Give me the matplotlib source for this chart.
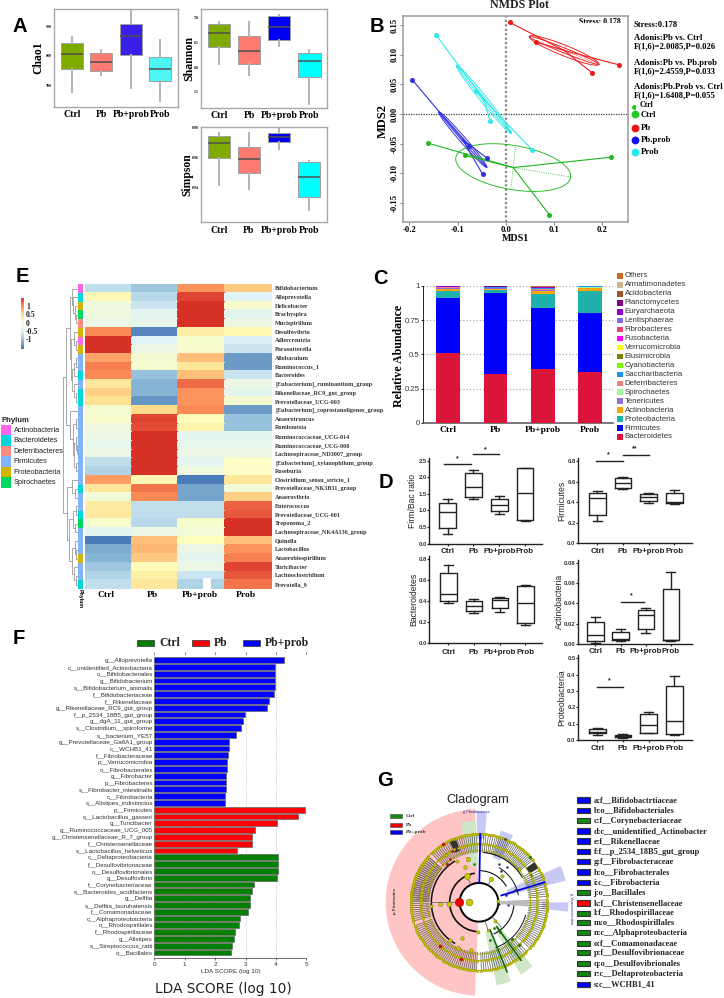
import numpy as np
import matplotlib
matplotlib.use('Agg')
import matplotlib.pyplot as plt
from matplotlib.colors import LinearSegmentedColormap
from matplotlib.patches import Rectangle, Wedge, Circle, Arc

W, H = 724, 998
serif = 'Liberation Serif'
sans = 'Liberation Sans'
plt.rcParams['font.family'] = sans

groups = ['Ctrl', 'Pb', 'Pb+prob', 'Prob']

# panel A: lo, q1, median, q3, hi
chao1 = [[676, 754, 807, 842, 864], [734, 747, 780, 809, 819], [692, 801, 867, 908, 951], [648, 713, 756, 797, 854]]
shannon = [[6.06, 6.40, 6.69, 6.87, 6.91], [5.84, 6.06, 6.33, 6.62, 6.91], [6.42, 6.55, 6.81, 7.03, 7.06], [5.25, 5.80, 6.13, 6.29, 6.34]]
simpson = [[.9421, .9598, .9697, .9744, .9765], [.939, .950, .959, .967, .9765], [.9658, .9701, .9738, .9763, .9788], [.9252, .934, .947, .9571, .958]]

# panel B
pb_pts = [(0.008, 0.155), (0.062, 0.122), (0.178, 0.07), (0.235, 0.083)]
prob_pts = [(-0.144, 0.133), (-0.061, 0.039), (-0.033, -0.011), (0.055, -0.061)]
pbprob_pts = [(-0.194, 0.058), (-0.076, -0.054), (-0.04, -0.074), (-0.048, -0.102)]
ctrl_pts = [(-0.162, -0.049), (-0.085, -0.07), (0.09, -0.17), (0.218, -0.073)]
adonis = ['Stress:0.178', 'Adonis:Pb vs. Ctrl', 'F(1,6)=2.0085,P=0.026', 'Adonis:Pb vs. Pb.prob',
          'F(1,6)=2.4559,P=0.033', 'Adonis:Pb.Prob vs. Ctrl', 'F(1,6)=1.6408,P=0.055']

# panel C
phyla = ['Bacteroidetes', 'Firmicutes', 'Proteobacteria', 'Actinobacteria', 'Tenericutes', 'Spirochaetes',
         'Deferribacteres', 'Saccharibacteria', 'Cyanobacteria', 'Elusimicrobia', 'Verrucomicrobia', 'Fusobacteria',
         'Fibrobacteres', 'Lentisphaerae', 'Euryarchaeota', 'Planctomycetes', 'Acidobacteria', 'Armatimonadetes', 'Others']
phyla_colors = ['#DC143C', '#0000FF', '#20B2AA', '#FFA500', '#9370DB', '#98FB98', '#F08080', '#1E90FF', '#7CFC00', '#808000',
                '#FFFF00', '#FF00FF', '#F04070', '#7B68EE', '#9400D3', '#800080', '#A0522D', '#D2B48C', '#D2691E']
ctrl_ab = [.51, .40, .055, .010, .007, .004, .003, .002, 0, .001, 0, 0, .001, .001, .001, .001, .001, 0, .003]
pb_ab = [.355, .59, .025, .005, .005, .004, .002, .002, 0, .001, 0, 0, .001, .002, .002, .002, .001, 0, .003]
pbprob_ab = [.39, .45, .10, .02, .006, .005, .005, .004, 0, .001, 0, 0, .003, .002, .001, .001, .002, 0, .01]
prob_ab = [.37, .43, .16, .02, .005, .006, .003, .002, 0, .001, 0, 0, .001, .001, 0, 0, 0, 0, .001]

# panel D: lo, q1, median, q3, hi
firm_bac = [[.30, .46, .94, 1.24, 1.35], [1.34, 1.40, 1.70, 2.12, 2.23], [.88, .97, 1.16, 1.35, 1.43], [.68, .72, 1.53, 2.27, 2.29]]
firmicutes = [[.22, .275, .44, .49, .51], [.53, .54, .59, .64, .65], [.39, .41, .45, .48, .49], [.38, .39, .40, .49, .52]]
bacteroidetes = [[.38, .40, .465, .665, .74], [.29, .305, .35, .405, .42], [.30, .335, .41, .43, .44], [.17, .19, .38, .545, .555]]
actino = [[.001, .003, .009, .022, .0265], [.003, .004, .005, .012, .015], [.011, .015, .028, .033, .035], [.003, .004, .004, .054, .071]]
proteo = [[.03, .04, .05, .07, .075], [.015, .02, .025, .03, .035], [.04, .042, .09, .16, .17], [.03, .038, .115, .33, .39]]

# panel E
genera = ['Bifidobacterium', 'Alloprevotella', 'Helicobacter', 'Brachyspira', 'Mucispirillum', 'Desulfovibrio', 'Adlercreutzia',
          'Parasutterella', 'Allobaculum', 'Ruminococcus_1', 'Bacteroides', '[Eubacterium]_ruminantium_group',
          'Rikenellaceae_RC9_gut_group', 'Prevotellaceae_UCG-003', '[Eubacterium]_coprostanoligenes_group', 'Anaerotruncus',
          'Romboutsia', 'Ruminococcaceae_UCG-014', 'Ruminococcaceae_UCG-008', 'Lachnospiraceae_ND3007_group',
          '[Eubacterium]_xylanophilum_group', 'Roseburia', 'Clostridium_sensu_stricto_1', 'Prevotellaceae_NK3B31_group',
          'Anaerovibrio', 'Enterococcus', 'Prevotellaceae_UCG-001', 'Treponema_2', 'Lachnospiraceae_NK4A136_group', 'Quinella',
          'Lactobacillus', 'Anaerobiospirillum', 'Turicibacter', 'Lachnoclostridium', 'Prevotella_9']
heat = [[-.65, -.85, .9, .6], [.1, -.7, 1.3, -.45], [-.25, -.6, 1.4, -.12], [-.25, -.4, 1.4, -.4], [-.3, -.35, 1.4, -.3],
        [.95, -1.3, .25, .1], [1.45, -.45, -.12, -.5], [1.45, -.3, -.1, -.6], [.8, -.15, .65, -1.15], [1.0, -.15, .35, -1.15],
        [.95, -.9, .65, -.6], [.35, -1.0, 1.1, -.3], [.55, -1.0, .9, -.4], [.45, -1.2, .9, -.15], [-.15, .5, .95, -1.15],
        [-.1, 1.3, .05, -.9], [-.25, 1.25, .2, -.9], [-.3, 1.4, -.4, -.4], [-.35, 1.45, -.35, -.35], [-.3, 1.45, -.3, -.3],
        [-.65, 1.4, -.4, -.05], [-.75, 1.4, -.25, -.05], [.85, .1, -1.35, .35], [.35, 1.05, -1.1, -.2], [-.2, .95, -1.1, .55],
        [.3, -.65, -.65, 1.15], [.3, -.65, -.65, 1.2], [-.1, -.7, -.12, 1.45], [-.4, -.3, -.2, 1.45], [-1.35, .65, 0, .65],
        [-1.05, .7, -.3, .9], [-1.0, .6, -.4, 1.0], [-.85, .05, -.3, 1.3], [-.75, .25, -.6, 1.2], [-.65, .35, -.75, 1.05]]
row_phylum = 'ABPSDPAPFFBFBBFFFFFFFFFBFFBSFFFPFFB'
phylum_names = ['Actinobacteria', 'Bacteroidetes', 'Deferribacteres', 'Firmicutes', 'Proteobacteria', 'Spirochaetes']
phylum_colors = {'A': '#FF66F0', 'B': '#00D8D8', 'D': '#FF8A80', 'F': '#80B4FF', 'P': '#D4B400', 'S': '#00D860'}
# (height, left, right), leaves are row numbers
tree = (1.0,
        (.8,
         (.55,
          (.42, 0, (.34, 1, (.24, 2, (.14, 3, 4)))),
          (.45, (.3, 5, (.14, 6, 7)), (.38, (.25, (.12, 8, 9), 10), (.28, 11, (.12, 12, 13))))),
         (.55, 14, (.36, (.18, 15, 16), (.3, (.16, 17, (.08, 18, 19)), (.14, 20, 21))))),
        (.72,
         (.38, 22, (.2, 23, 24)),
         (.58, (.34, (.12, 25, 26), (.2, 27, 28)), (.4, (.24, 29, (.12, 30, 31)), (.26, 32, (.14, 33, 34))))))

# panel F
blue_names = ['g__Alloprevotella', 'c__unidentified_Actinobacteria', 'o__Bifidobacteriales', 'g__Bifidobacterium',
              's__Bifidobacterium_animalis', 'f__Bifidobacteriaceae', 'f__Rikenellaceae', 'g__Rikenellaceae_RC9_gut_group',
              'f__p_2534_18B5_gut_group', 'g__dgA_11_gut_group', 's__Clostridium__spiroforme', 's__bacterium_YE57',
              'g__Prevotellaceae_Ga6A1_group', 'c__WCHB1_41', 'f__Fibrobacteraceae', 'p__Verrucomicrobia', 'o__Fibrobacterales',
              'g__Fibrobacter', 'p__Fibrobacteres', 's__Fibrobacter_intestinalis', 'c__Fibrobacteria', 's__Alistipes_indistinctus']
blue_lda = [4.27, 3.97, 3.97, 3.96, 3.96, 3.94, 3.78, 3.71, 2.98, 2.91, 2.85, 2.69, 2.47, 2.45, 2.42, 2.39, 2.38, 2.37, 2.37, 2.36, 2.32, 2.32]
red_names = ['p__Firmicutes', 's__Lactobacillus_gasseri', 'g__Turicibacter', 'g__Ruminococcaceae_UCG_005',
             'g__Christensenellaceae_R_7_group', 'f__Christensenellaceae', 's__Lactobacillus_helveticus']
red_lda = [4.95, 4.73, 4.02, 3.31, 3.21, 3.20, 2.72]
green_names = ['c__Deltaproteobacteria', 'f__Desulfovibrionaceae', 'o__Desulfovibrionales', 'g__Desulfovibrio',
               'f__Corynebacteriaceae', 's__Bacteroides_acidifaciens', 'g__Delftia', 's__Delftia_tsuruhatensis',
               'f__Comamonadaceae', 'c__Alphaproteobacteria', 'o__Rhodospirillales', 'f__Rhodospirillaceae', 'g__Alistipes',
               's__Streptococcus_ratti', 'o__Bacillales']
green_lda = [4.07, 4.06, 4.06, 4.05, 3.28, 3.21, 3.15, 3.14, 3.09, 2.81, 2.77, 2.66, 2.63, 2.55, 2.52]

# panel G
clade_keys = ['a:f__Bifidobactrtiaceae', 'b:o__Bifidobacteriales', 'c:f__Corynebacteriaceae', 'd:c__unidentified_Actinobacter',
              'e:f__Rikenellaceae', 'f:f__p_2534_18B5_gut_group', 'g:f__Fibrobacteraceae', 'h:o__Fibrobacterales', 'i:c__Fibrobacteria',
              'j:o__Bacillales', 'k:f__Christensenellaceae', 'l:f__Rhodospirillaceae', 'm:o__Rhodospirillales', 'n:c__Alphaproteobacteria',
              'o:f__Comamonadaceae', 'p:f__Desulfovibrionaceae', 'q:o__Desulfovibrionales', 'r:c__Deltaproteobacteria', 's:c__WCHB1_41']
clade_cols = ['b', 'b', 'g', 'b', 'b', 'b', 'b', 'b', 'b', 'g', 'r', 'g', 'g', 'g', 'g', 'g', 'g', 'g', 'b']
# start angle, end angle, inner radius, outer radius, colour
clade_wedges = [(92.5, 267.5, 58, 280, '#FFC4C4'), (92, 103, 110, 245, '#CFE6C6'), (85, 91.5, 190, 272, '#C8C8F4'),
                (63, 73, 140, 225, '#C8C8F4'), (14, 24, 90, 268, '#C8C8F4'), (-6, 0, 190, 268, '#C8C8F4'),
                (-78, -68, 90, 255, '#CFE6C6'), (-60, -50, 90, 250, '#CFE6C6')]
# start, end, number of leaves
leaf_spans = [(92, 78, 8), (76, 38, 24), (30, 5, 13), (2, -42, 24), (-46, -88, 22), (-92, -160, 38), (-164, -222, 32), (134, 94, 22), (178, 138, 22)]
# angle, radius, colour letter, size
clade_nodes = [(180, 29, 'y', 30), (180, 59, 'r', 38), (183, 89, 'y', 22), (183, 117, 'y', 18), (184, 143, 'y', 14),
               (115, 88, 'y', 26), (104, 135, 'y', 20), (112, 115, 'y', 16), (118, 140, 'y', 14), (125, 175, 'y', 14),
               (98, 115, 'g', 10), (130, 150, 'r', 12), (124, 155, 'r', 10), (118, 175, 'r', 10), (122, 205, 'r', 14),
               (232, 143, 'y', 16), (228, 175, 'r', 14), (244, 118, 'y', 16), (245, 150, 'y', 18), (252, 178, 'r', 14),
               (260, 145, 'y', 16), (268, 90, 'y', 14), (62, 78, 'y', 20), (48, 105, 'y', 14), (40, 155, 'y', 14), (18, 115, 'b', 10),
               (14, 85, 'b', 10), (3, 58, 'y', 14), (-5, 60, 'b', 8), (-5, 88, 'b', 8), (-50, 75, 'y', 14), (-55, 110, 'g', 12),
               (-60, 90, 'g', 10), (-72, 88, 'y', 12), (-74, 118, 'g', 10), (-48, 148, 'g', 12), (-47, 175, 'g', 12),
               (55, 115, 'b', 9), (52, 135, 'b', 9), (62, 130, 'b', 9), (68, 205, 'b', 9), (42, 205, 'g', 12), (28, 175, 'g', 8)]
blue_lines = [(89, 58, 205), (17, 70, 205)]
green_lines = [(-68, 90, 225), (-54, 90, 215)]
node_colors = {'y': '#C8C800', 'r': '#EE0000', 'g': '#118811', 'b': '#1111DD'}
cols = {'g': '#118811', 'r': '#FF0000', 'b': '#0000FF'}

fig = plt.figure(figsize=(W / 100, H / 100), dpi=100)


def add_ax(x0, y0, x1, y1, **kw):
    return fig.add_axes([x0 / W, 1 - y1 / H, (x1 - x0) / W, (y1 - y0) / H], **kw)


def stats(rows):
    return [dict(whislo=r[0], q1=r[1], med=r[2], q3=r[3], whishi=r[4], fliers=[]) for r in rows]


def alpha_box(box, rows, ylim, ticks, fmt, name, colors, ylab_x, ylab_size):
    ax = add_ax(*box)
    bp = ax.bxp(stats(rows), positions=range(1, 5), widths=.75, patch_artist=True, showcaps=False, showfliers=False,
                medianprops=dict(color='#505050', lw=1.1), whiskerprops=dict(color='#B4B4B4', lw=1.4),
                boxprops=dict(edgecolor='#A0A0A0', lw=.7))
    for p, c in zip(bp['boxes'], colors):
        p.set_facecolor(c)
    ax.set_xlim(.4, 4.6)
    ax.set_ylim(*ylim)
    ax.set_yticks(ticks)
    ax.set_yticklabels([fmt % t for t in ticks], fontsize=2.8, fontweight='bold', family=serif)
    ax.set_xticks(range(1, 5))
    ax.set_xticklabels(groups, fontsize=7, fontweight='bold', family=serif)
    ax.tick_params(length=0, pad=2.5, axis='x')
    ax.tick_params(length=0, pad=1.5, axis='y')
    for s in ax.spines.values():
        s.set_color('#A8A8A8')
        s.set_linewidth(1)
    ov.text(ylab_x, (box[1] + box[3]) / 2, name, rotation=90, ha='center', va='center', fontsize=ylab_size, fontweight='bold', family=serif)
    return ax


def prism_box(x0, x1, y_top, y0, ymax, ticks, fmt, rows, centers, name, ylab_x, cat_y):
    ax = add_ax(x0, y_top, x1, y0)
    bp = ax.bxp(stats(rows), positions=centers, widths=16.5, showcaps=True, showfliers=False, capwidths=9,
                medianprops=dict(color='#222222', lw=1), whiskerprops=dict(color='#222222', lw=1),
                capprops=dict(color='#222222', lw=1), boxprops=dict(color='#222222', lw=1))
    ax.set_xlim(x0, x1)
    ax.set_ylim(0, ymax)
    ax.set_yticks(ticks)
    ax.set_yticklabels([fmt % t for t in ticks], fontsize=4.2, fontweight='bold', color='#333333')
    ax.set_xticks(centers)
    ax.set_xticklabels([])
    ax.tick_params(length=1.2, width=.9, pad=.6, color='#222222')
    for s in ['top', 'right']:
        ax.spines[s].set_visible(False)
    for s in ['left', 'bottom']:
        ax.spines[s].set_linewidth(1)
        ax.spines[s].set_color('#222222')
    for c, g in zip(centers, groups):
        ov.text(c, cat_y, g, ha='center', va='center', fontsize=5.8, color='#222222', fontweight='bold')
    ov.text(ylab_x, (y_top + y0) / 2, name, rotation=90, ha='center', va='center', fontsize=6.2, color='#222222')
    return ax


# overlay in pixel coordinates for the free text
ov = add_ax(0, 0, W, H, zorder=20)
ov.set_xlim(0, W)
ov.set_ylim(H, 0)
ov.axis('off')
ov.patch.set_alpha(0)

for letter, x, y in [('A', 20, 26), ('B', 377, 26), ('C', 380, 279), ('D', 386, 483), ('E', 22, 277), ('F', 19, 639), ('G', 385, 781)]:
    ov.text(x, y, letter, ha='center', va='center', fontsize=14.5, fontweight='bold', color='black')

# ---- A
alpha_box((54, 9, 178, 107), chao1, (626, 959), [700, 800, 900], '%d', 'Chao1', ['#7FAA00', '#FF7A70', '#3A1FE8', '#4DF5F5'], 38.5, 8.4)
alpha_box((201, 9.3, 327.3, 108), shannon, (5.17, 7.17), [5.5, 6.0, 6.5, 7.0], '%.1f', 'Shannon', ['#7FAA00', '#FF7A70', '#0000F0', '#00FFFF'], 189, 8.6)
alpha_box((201, 127.3, 326.7, 222.3), simpson, (.9172, .9798), [.94, .96, .98], '%.2f', 'Simpson', ['#7FAA00', '#FF7A70', '#0000F0', '#00FFFF'], 187, 8.4)

# ---- B
ax = add_ax(403.3, 16, 628, 221.7)
ax.set_xlim(-.2124, .2531)
ax.set_ylim(-.182, .1657)
ax.axhline(0, color='#444444', lw=.9, ls=(0, (1, 1)))
ax.axvline(0, color='#888888', lw=1.6, ls=(0, (1, 1)))
t = np.linspace(0, 2 * np.pi, 120)
ell = [(pb_pts, '#F01818', (.072, -.0235), [(.0035, .0085), (.001, .004)]),
       (prob_pts, '#30E8E8', (.057, -.0575), [(.004, .005), (.0015, .002)]),
       (pbprob_pts, '#3030E0', (.05, -.047), [(.004, .004), (.0015, .0015)]),
       (ctrl_pts, '#22B822', (.119, -.016), [(.005, .037)])]
for pts, c, u, vs in ell:
    p = np.array(pts)
    m = p.mean(axis=0)
    for q in p:
        ax.plot([m[0], q[0]], [m[1], q[1]], color=c, lw=.8)
    ax.plot(p[:, 0], p[:, 1], 'o', color=c, ms=2.6, zorder=5)
    for v in vs:
        ax.plot(m[0] + u[0] * np.cos(t) + v[0] * np.sin(t), m[1] + u[1] * np.cos(t) + v[1] * np.sin(t), color=c, lw=.65)
    v = vs[0]
    ax.plot([m[0], m[0] + u[0]], [m[1], m[1] + u[1]], color=c, lw=.6, ls=':')
    ax.plot([m[0] - v[0], m[0] + v[0]], [m[1] - v[1], m[1] + v[1]], color=c, lw=.6, ls=':')
ax.set_xticks([-.2, -.1, 0, .1, .2])
ax.set_xticklabels(['-0.2', '-0.1', '0.0', '0.1', '0.2'], fontsize=6.2, fontweight='bold', family=serif)
ax.set_yticks([-.15, -.1, -.05, 0, .05, .1, .15])
ax.set_yticklabels(['-0.15', '-0.10', '-0.05', '0.00', '0.05', '0.10', '0.15'], fontsize=6.2, fontweight='bold', family=serif, rotation=90, va='center')
ax.tick_params(length=2, width=.6, pad=1.2, color='#666666')
for s in ax.spines.values():
    s.set_color('#9A9A9A')
    s.set_linewidth(1.1)
ov.text(519, 5, 'NMDS Plot', ha='center', va='center', fontsize=8.6, fontweight='bold', family=serif, color='#222222')
ov.text(515, 238, 'MDS1', ha='center', va='center', fontsize=7.2, fontweight='bold', family=serif)
ov.text(383, 121, 'MDS2', rotation=90, ha='center', va='center', fontsize=9, fontweight='bold', family=serif)
ov.text(600, 22, 'Stress: 0.178', ha='center', va='center', fontsize=5.6, fontweight='bold', family=serif)
ov.add_patch(Rectangle((575, 22.5), 50, 6, color='white', lw=0, zorder=3))
for s, y in zip(adonis, [25, 38, 46.5, 62.5, 71, 87, 95.5]):
    ov.text(633.5, y, s, va='center', fontsize=6.2, fontweight='bold', family=serif)
ov.text(640, 105, 'Ctrl', va='center', fontsize=5.6, fontweight='bold', family=serif)
ov.add_patch(Rectangle((636, 106.5), 30, 5, color='white', lw=0, zorder=3))
ov.plot([634], [106.5], 'o', color='#22C822', ms=2.5)
for s, c, y in zip(['Ctrl', 'Pb', 'Pb.prob', 'Prob'], ['#22C822', '#EE1111', '#1111EE', '#22E8E8'], [114.3, 127.5, 140, 152]):
    ov.plot([635], [y], 'o', color=c, ms=4.6, zorder=4)
    ov.text(640.5, y + .3, s, va='center', fontsize=6.3, fontweight='bold', family=serif, zorder=4)

# ---- C
ax = add_ax(423, 285.7, 613, 423)
bottom = np.zeros(4)
for i, (n, c) in enumerate(zip(phyla, phyla_colors)):
    vals = np.array([ctrl_ab[i], pb_ab[i], pbprob_ab[i], prob_ab[i]])
    ax.bar(range(4), vals, .5, bottom=bottom, color=c, zorder=3)
    bottom = bottom + vals
ax.set_xlim(-.527, 3.48)
ax.set_ylim(0, 1)
ax.set_yticks([0, .25, .5, .75, 1])
ax.set_yticklabels(['0', '0.25', '0.5', '0.75', '1'], fontsize=5.6, color='#333333')
ax.set_xticks(range(4))
ax.set_xticklabels(groups, fontsize=6.8, fontweight='bold', family=serif)
ax.tick_params(axis='x', length=0, pad=2.5)
ax.tick_params(axis='y', length=1.5, pad=1, width=.6)
ax.yaxis.grid(True, color='#AAAAAA', ls=':', lw=.9, zorder=0)
for s in ['top', 'right']:
    ax.spines[s].set_visible(False)
ax.spines['bottom'].set_linewidth(1.1)
ax.spines['bottom'].set_color('#555555')
ax.spines['left'].set_linewidth(.6)
ov.text(399.5, 356, 'Relative Abundance', rotation=90, ha='center', va='center', fontsize=8.6, fontweight='bold', family=serif)
for i, (n, c) in enumerate(zip(phyla, phyla_colors)):
    y = 437 - 8.95 * i
    ov.add_patch(Rectangle((617, y - 2.8), 5.5, 5.6, color=c, lw=0))
    ov.text(624.7, y, n, va='center', fontsize=5.6, color='#333333')

# ---- D
ax = prism_box(429.3, 541.7, 458, 543.7, 2.58, [0, .5, 1, 1.5, 2, 2.5], '%.1f', firm_bac, [447.7, 473.3, 499.3, 525], 'Firm/Bac ratio', 412.7, 551.5)
ax = prism_box(578, 691.7, 458, 543.3, .832, [0, .2, .4, .6, .8], '%.1f', firmicutes, [597.3, 623, 648.7, 674.3], 'Firmicutes', 562, 551.5)
ax = prism_box(429.3, 542.5, 556, 643.3, .83, [0, .2, .4, .6, .8], '%.1f', bacteroidetes, [448.3, 474, 500, 525.3], 'Bacteroidetes', 413.5, 652)
ax = prism_box(578, 691.7, 560, 643.7, .083, [0, .02, .04, .06, .08], '%.2f', actino, [595.3, 620.7, 646, 671], 'Actinobacteria', 559, 651.5)
ax = prism_box(578, 691.7, 655, 740, .52, [0, .1, .2, .3, .4, .5], '%.1f', proteo, [597.3, 623, 648.7, 674.3], 'Proteobacteria', 562, 748)
for x0, x1, y, sx, sy, s in [(443.5, 470.5, 464, 457, 459, '*'), (472.7, 498.7, 454, 485.7, 449.5, '*'), (595.5, 622.5, 461, 608, 455, '*'),
                             (622.7, 649, 454.7, 635, 449, '**'), (620.5, 644, 602, 631.7, 596, '*'), (596.7, 623.3, 687.3, 609.3, 681, '*')]:
    ov.plot([x0, x1], [y, y], color='#222222', lw=1)
    ov.text(sx, sy, s, ha='center', va='center', fontsize=5, fontweight='bold', color='#222222')

# ---- E
ax = add_ax(84.7, 284.3, 272, 589)
cmap = LinearSegmentedColormap.from_list('heat', ['#4575B4', '#91BFDB', '#E0F3F8', '#FFFFBF', '#FEE090', '#FC8D59', '#D73027'])
ax.pcolormesh(np.array(heat), cmap=cmap, vmin=-1.4, vmax=1.4, edgecolors='face', linewidth=.1)
ax.set_xlim(0, 4)
ax.set_ylim(len(heat), 0)
ax.axis('off')
ax.add_patch(Rectangle((2.52, 33.75), .17, 1.25, color='white', lw=0))
for j, g in enumerate(groups):
    ax.text(j + .5 - .05, 35.7, g, ha='center', va='center', fontsize=6.8, fontweight='bold', family=serif, clip_on=False)
for i, g in enumerate(genera):
    ov.text(275, 284.3 + 8.705 * (i + .5), g, va='center', fontsize=4.4, fontweight='bold', family=serif, color='#333333')
    ov.add_patch(Rectangle((78.3, 284.3 + 8.705 * i), 5, 8.705, color=phylum_colors[row_phylum[i]], lw=0))
ov.text(80.5, 598.5, 'Phylum', rotation=-90, ha='center', va='center', fontsize=3.8, fontweight='bold')

dn = add_ax(63, 284.3, 78.3, 589)
dn.set_xlim(1, 0)
dn.set_ylim(len(heat), 0)
dn.axis('off')


def draw_node(n):
    if isinstance(n, int):
        return n + .5, 0
    h, l, r = n
    yl, hl = draw_node(l)
    yr, hr = draw_node(r)
    dn.plot([hl, h, h, hr], [yl, yl, yr, yr], color='#9A9A9A', lw=.6)
    return (yl + yr) / 2, h


draw_node(tree)
cb = add_ax(21, 298, 24, 349.3)
cb.imshow(np.linspace(1.4, -1.4, 200).reshape(-1, 1), cmap=cmap, aspect='auto', vmin=-1.4, vmax=1.4)
cb.axis('off')
for s, y in zip(['1', '0.5', '0', '-0.5', '-1'], [307, 315.3, 323.5, 331.7, 340]):
    ov.text(26, y, s, va='center', fontsize=5.6, fontweight='bold', family=serif, color='#222222')
ov.text(2, 420, 'Phylum', va='center', fontsize=5.6, fontweight='bold', color='#222222')
for i, (n, k) in enumerate(zip(phylum_names, 'ABDFPS')):
    y = 425 + 10.45 * i
    ov.add_patch(Rectangle((1, y), 10, 10.45, color=phylum_colors[k], lw=0))
    ov.text(13.5, y + 5.2, n, va='center', fontsize=5.3, color='#222222')

# ---- F
ax = add_ax(154.3, 654, 306.3, 958)
names = blue_names + red_names + green_names
vals = blue_lda + red_lda + green_lda
colors = ['#0000FF'] * len(blue_lda) + ['#FF0000'] * len(red_lda) + ['#008000'] * len(green_lda)
ax.barh(range(len(vals)), vals, .84, color=colors, edgecolor='#666666', linewidth=.5, zorder=3)
ax.set_xlim(0, 5)
ax.set_ylim(len(vals) - .2, -.9)
ax.set_yticks(range(len(vals)))
ax.set_yticklabels(names, fontsize=4.5, color='#333333')
ax.set_xticks(range(6))
ax.set_xticklabels(range(6), fontsize=4.6, color='#333333')
ax.xaxis.grid(True, color='#BBBBBB', ls=':', lw=.6, zorder=0)
ax.tick_params(axis='y', length=0, pad=1)
ax.tick_params(axis='x', length=1.5, width=.4, pad=1.5, top=True)
for s in ['top', 'right', 'left', 'bottom']:
    ax.spines[s].set_visible(False)
ax.spines['bottom'].set_visible(True)
ax.spines['bottom'].set_linewidth(.4)
ov.text(230.5, 972, 'LDA SCORE (log 10)', ha='center', va='center', fontsize=4.6, color='#333333')
ov.text(223, 989, 'LDA SCORE (log 10)', ha='center', va='center', fontsize=9.9, family='DejaVu Sans', color='#222222')
for x, s, c, in [(137, 'Ctrl', '#008000'), (192, 'Pb', '#FF0000'), (243, 'Pb+prob', '#0000FF')]:
    ov.add_patch(Rectangle((x, 640), 17, 6, facecolor=c, edgecolor='#444444', lw=.6))
    ov.text(x + 22, 642.7, s, va='center', fontsize=8.4, fontweight='bold', family=serif, color='#222222')

# ---- G
ax = add_ax(379, 802.3, 579, 1002.3)
ax.set_xlim(-300, 300)
ax.set_ylim(-300, 300)
ax.set_aspect('equal')
ax.axis('off')
ax.patch.set_alpha(0)


def pol(a, r):
    return r * np.cos(np.radians(a)), r * np.sin(np.radians(a))


for a0, a1, r0, r1, c in clade_wedges:
    ax.add_patch(Wedge((0, 0), r1, a0, a1, width=r1 - r0, color=c, lw=0, zorder=1))
for a0, a1, n in leaf_spans:
    for k, a in enumerate(np.linspace(a0, a1, n)):
        for r0, r1 in [(150, 173), (175, 203)]:
            x, y = zip(pol(a, r0), pol(a, r1))
            ax.plot(x, y, color='#5A5A5A', lw=.5, zorder=2)
        x, y = pol(a, 205)
        ax.plot(x, y, 'o', color='#C8C800', ms=1.9, mec='#808000', mew=.2, zorder=4)
        if k % 2 == 0:
            x, y = pol(a, 175)
            ax.plot(x, y, 'o', color='#C8C800', ms=1.9, mec='#808000', mew=.2, zorder=4)
ax.add_patch(Circle((0, 0), 58, fill=False, color='black', lw=1.4, zorder=3))
for r, t1, t2, lw in [(88, 98, 265, 1.2), (143, 120, 240, 1.1), (150, 30, 85, .8), (120, 10, 60, .7), (95, 30, 88, .8), (105, -65, -5, .8),
                      (145, -70, -15, .7), (175, 118, 135, .6)]:
    ax.add_patch(Arc((0, 0), 2 * r, 2 * r, theta1=t1, theta2=t2, color='#111111', lw=lw, zorder=3))
for r, lw in [(155, .7), (175, .9), (205, .9)]:
    ax.add_patch(Circle((0, 0), r, fill=False, color='#A8A800', lw=lw, zorder=3))
for a, r0, r1 in blue_lines:
    ax.plot(*zip(pol(a, r0), pol(a, r1)), color='#0000DD', lw=1.3, zorder=4)
for a, r0, r1 in green_lines:
    ax.plot(*zip(pol(a, r0), pol(a, r1)), color='#116611', lw=1.2, zorder=4)
for a, r in [(180, 143), (115, 88), (62, 78), (-48, 100), (-72, 88)]:
    ax.plot(*zip(pol(a, r), pol(a, 58)), color='#666666', lw=.6, zorder=3)
ax.add_patch(Wedge((0, 0), 205, 110, 116, width=40, color='#333333', lw=0, zorder=3))
ax.add_patch(Wedge((0, 0), 205, 30, 36, width=30, color='#333333', lw=0, zorder=3))
ax.add_patch(Wedge((0, 0), 150, -5, 3, width=85, color='#BBBBBB', lw=0, zorder=2))
for a, r, c, s in clade_nodes:
    x, y = pol(a, r)
    ax.plot(x, y, 'o', color=node_colors[c], ms=s / 6, mec='#555500', mew=.25, zorder=5)
ax.text(-8, 270, 'p_Fibrobacteres', fontsize=2.8, color='#222288', ha='center', va='center', zorder=6)
ax.text(-252, 5, 'p_Firmicutes', rotation=90, fontsize=3.2, fontweight='bold', color='#333333', ha='center', va='center', zorder=6)
ax.text(275, -20, 'p_Verrucomicrobia', rotation=-90, fontsize=2.8, color='#222288', ha='center', va='center', zorder=6)
ov.text(478, 800.5, 'Cladogram', ha='center', va='center', fontsize=9.3, color='#222222')
for s, c, y in zip(['Ctrl', 'Pb', 'Pb+prob'], ['#118811', '#EE0000', '#0000EE'], [816.3, 824.5, 832.3]):
    ov.add_patch(Rectangle((390, y - 2), 12, 4, facecolor=c, edgecolor='#444444', lw=.4))
    ov.text(405.5, y, s, va='center', fontsize=3.9, fontweight='bold', family=serif, color='#333333')
for s, c, y in zip(clade_keys, clade_cols, [90, 122, 152, 183, 213, 245, 275, 306, 338, 368, 399, 430, 458, 488, 520, 548, 581, 611, 643]):
    y = 770 + y / 3
    ov.add_patch(Rectangle((577, y - 2.8), 13, 5.6, facecolor=cols[c], edgecolor='#333333', lw=.8))
    ov.text(593.5, y, s, va='center', fontsize=6, fontweight='bold', family=serif, color='#222222')

fig.savefig('out.png', dpi=100)
